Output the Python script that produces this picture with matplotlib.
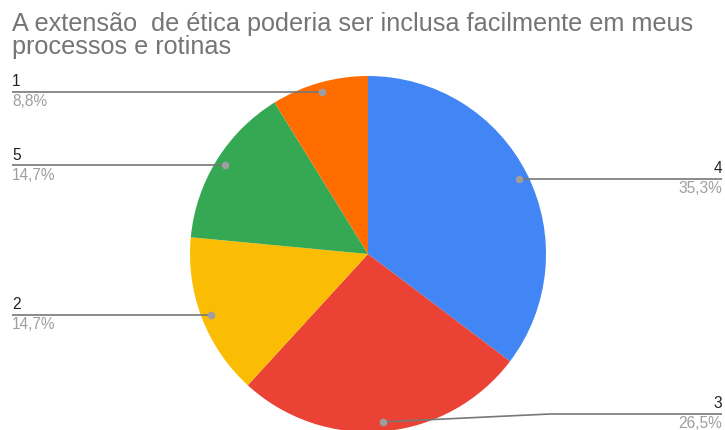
import numpy as np
import matplotlib.pyplot as plt

# data (clockwise from 12 o'clock)
labels = ["4", "3", "2", "5", "1"]
values = [35.3, 26.5, 14.7, 14.7, 8.8]
pct_text = ["35,3%", "26,5%", "14,7%", "14,7%", "8,8%"]
colors = ["#4285F4", "#EA4335", "#FBBC04", "#34A853", "#FF6D01"]

title = "A extensão  de ética poderia ser inclusa facilmente em meus\nprocessos e rotinas"

plt.rcParams["font.family"] = ["Liberation Sans", "DejaVu Sans"]

W, H = 725, 430
fig = plt.figure(figsize=(W / 100, H / 100), dpi=100)
ax = fig.add_axes([0, 0, 1, 1])

cx, cy, r = 368, H - 254, 178
wedges, _ = ax.pie(values, colors=colors, startangle=90, counterclock=False,
                   center=(cx, cy), radius=r, frame=True,
                   wedgeprops=dict(linewidth=0))
ax.set_xlim(0, W)
ax.set_ylim(0, H)
ax.set_aspect("equal")
ax.axis("off")

# label line heights (pixels from top) where it differs from the dot
line_y = {"3": 414}

for w, lab, pct in zip(wedges, labels, pct_text):
    ang = np.deg2rad((w.theta1 + w.theta2) / 2)
    dx = cx + 0.947 * r * np.cos(ang)
    dy = cy + 0.947 * r * np.sin(ang)
    ly = H - line_y[lab] if lab in line_y else dy
    right = np.cos(ang) > 0
    xe = 722 if right else 12
    if lab in line_y:
        xs = [dx, 550, xe]
        ys = [dy, ly, ly]
    else:
        xs = [dx, xe]
        ys = [dy, ly]
    ax.plot(xs, ys, color="#777777", lw=1.2, solid_capstyle="butt")
    ax.plot([dx], [dy], "o", color="#9e9e9e", ms=4.5)
    ha = "right" if right else "left"
    ax.text(xe, ly + 2.5, lab, ha=ha, va="bottom", fontsize=11.2, color="#222222")
    ax.text(xe, ly - 2.5, pct, ha=ha, va="top", fontsize=11.2, color="#9e9e9e")

fig.text(12 / W, 1 - 12 / H, title, ha="left", va="top", fontsize=18.2,
         color="#757575", linespacing=0.97)

fig.savefig("out.png", dpi=100)
